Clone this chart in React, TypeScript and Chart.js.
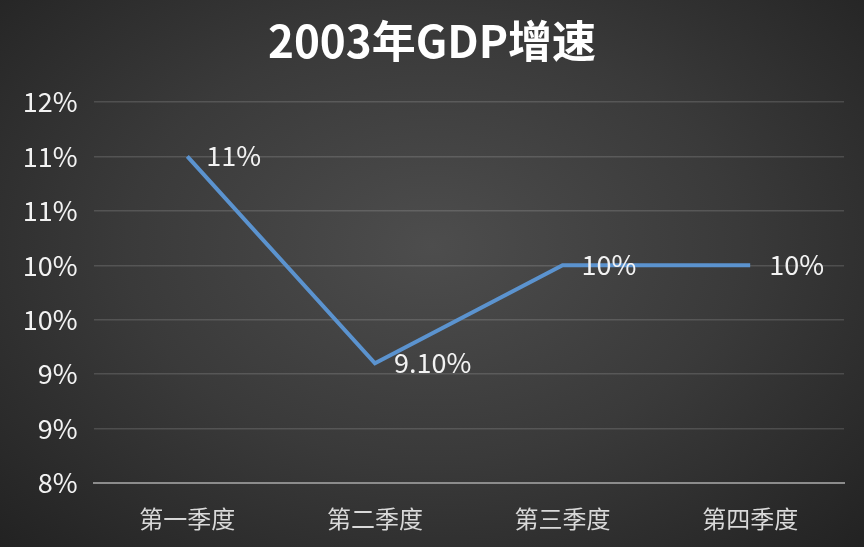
import { useEffect, useRef } from "react"
import { Chart, registerables } from "chart.js"

Chart.register(...registerables)

const categories = ["第一季度", "第二季度", "第三季度", "第四季度"]
const growth = [11, 9.1, 10, 10]
const pointLabels = ["11%", "9.10%", "10%", "10%"]
// axis runs 8..11.5 in 0.5 steps, labels rounded like the original
const yTickLabels = ["8%", "9%", "9%", "10%", "10%", "11%", "11%", "12%"]

const FONT = "'Noto Sans CJK SC', 'Noto Sans', sans-serif"

const pointLabelPlugin = {
  id: "pointLabels",
  afterDatasetsDraw(chart: Chart) {
    const ctx = chart.ctx
    const meta = chart.getDatasetMeta(0)
    ctx.save()
    ctx.font = `27px ${FONT}`
    ctx.fillStyle = "#f2f2f2"
    ctx.textAlign = "left"
    ctx.textBaseline = "middle"
    meta.data.forEach((pt, i) => {
      ctx.fillText(pointLabels[i], pt.x + 19, pt.y - 1)
    })
    ctx.restore()
  },
}

export default function App() {
  const chartRef = useRef<HTMLCanvasElement>(null)
  const chartInstance = useRef<Chart | null>(null)

  useEffect(() => {
    document.body.style.margin = "0"
    if (!chartRef.current) return
    if (chartInstance.current) chartInstance.current.destroy()

    const ctx = chartRef.current.getContext("2d")
    if (!ctx) return

    chartInstance.current = new Chart(ctx, {
      type: "line",
      data: {
        labels: categories,
        datasets: [
          {
            data: growth,
            borderColor: "#5b93cf",
            borderWidth: 4,
            pointRadius: 0,
            tension: 0,
          },
        ],
      },
      plugins: [pointLabelPlugin],
      options: {
        responsive: false,
        animation: false,
        layout: { padding: { left: 20, right: 20, top: 0, bottom: 1 } },
        plugins: {
          legend: { display: false },
          tooltip: { enabled: false },
          title: {
            display: true,
            text: "2003年GDP增速",
            color: "#ffffff",
            font: { family: FONT, size: 44, weight: "bold" },
            padding: { top: 15, bottom: 34 },
          },
        },
        scales: {
          x: {
            offset: true,
            grid: { display: false },
            border: { color: "#8c8c8c", width: 2 },
            ticks: {
              color: "#d9d9d9",
              font: { family: FONT, size: 24 },
              padding: 13,
              maxRotation: 0,
            },
          },
          y: {
            min: 8,
            max: 11.5,
            afterFit(scale: any) {
              scale.width = 73.5
            },
            grid: { color: "rgba(255,255,255,0.14)", lineWidth: 1.5, drawTicks: false },
            border: { display: false },
            ticks: {
              stepSize: 0.5,
              color: "#f2f2f2",
              font: { family: FONT, size: 27 },
              padding: 16,
              callback: (_v: any, i: number) => yTickLabels[i],
            },
          },
        },
      },
    })

    return () => {
      if (chartInstance.current) chartInstance.current.destroy()
    }
  }, [])

  return (
    <div
      style={{
        width: 864,
        height: 547,
        background: "radial-gradient(ellipse at 50% 45%, #4d4d4d 0%, #3a3a3a 50%, #222222 100%)",
      }}
    >
      <canvas ref={chartRef} width={864} height={547}></canvas>
    </div>
  )
}
